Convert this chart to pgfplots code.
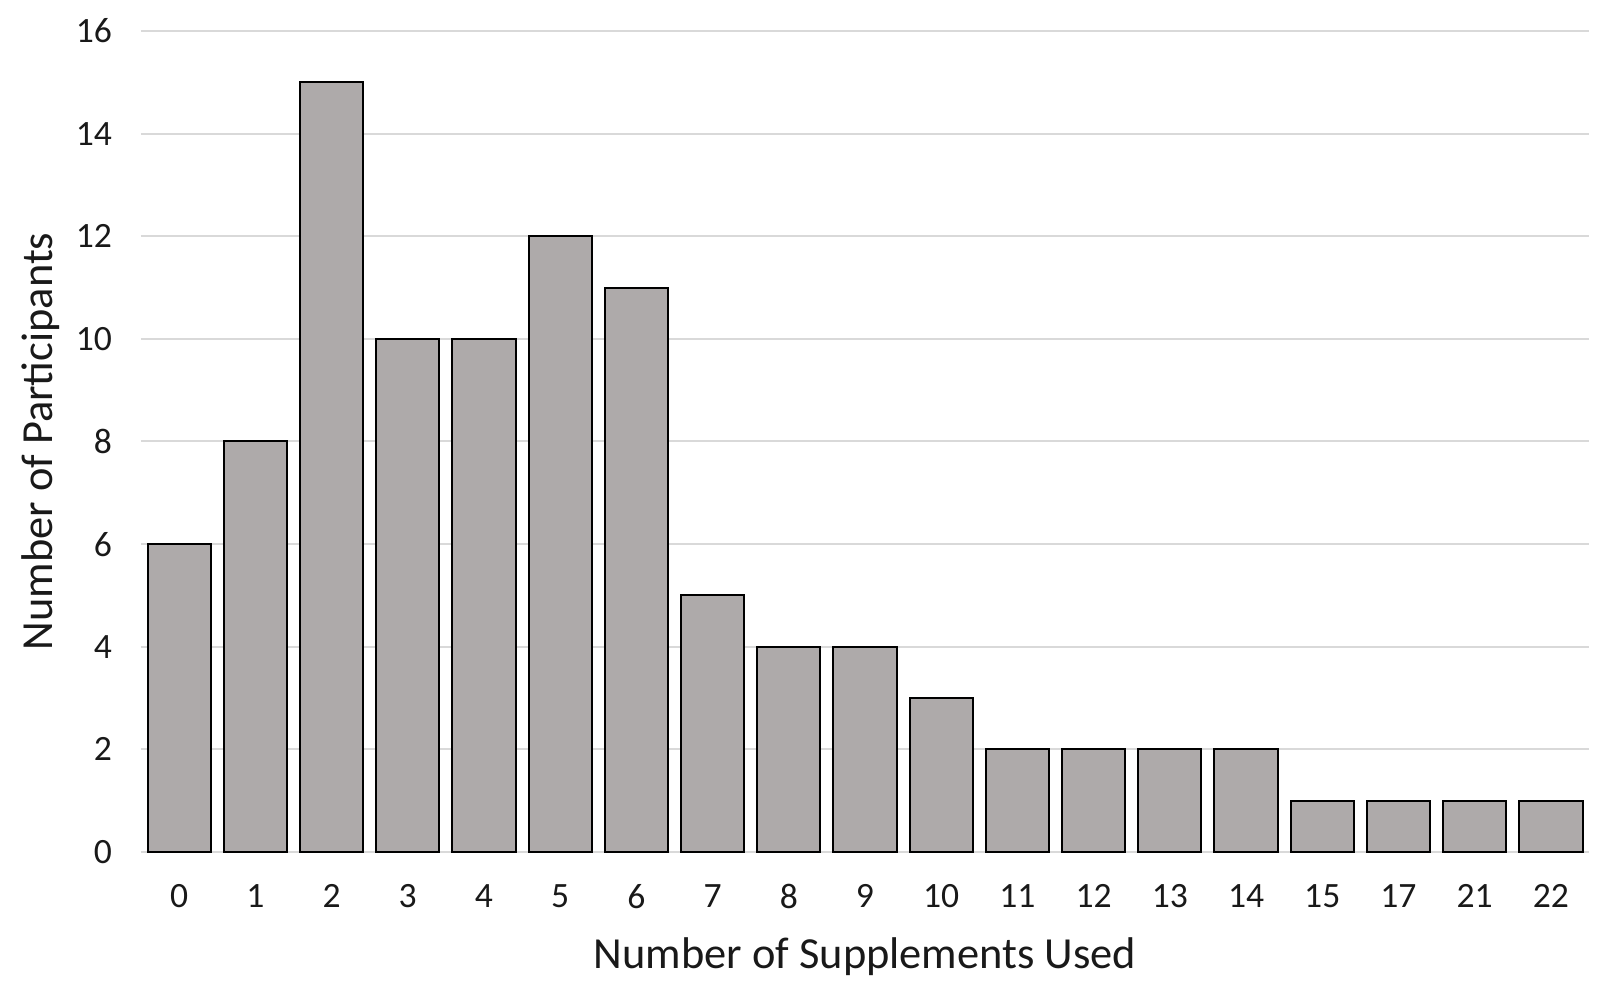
\documentclass[border=0pt]{standalone}
\usepackage{fontspec}
\setmainfont{Carlito}
\usepackage{pgfplots}
\pgfplotsset{compat=1.18}
\definecolor{barfill}{RGB}{174,170,170}
\definecolor{gridc}{RGB}{217,217,217}
\begin{document}
\begin{tikzpicture}
\begin{axis}[name=ax, at={(0,0)}, anchor=south west,
 scale only axis, width=724pt, height=410.5pt,
 xmin=-0.5, xmax=18.5, ymin=0, ymax=16,
 ytick={0,2,...,16},
 xtick=data,
 xticklabels={0,1,2,3,4,5,6,7,8,9,10,11,12,13,14,15,17,21,22},
 axis line style={draw=none}, major tick length=0,
 ymajorgrids, grid style={gridc, line width=1pt},
 ybar, bar width=31.6pt, bar shift=0pt,
 /pgf/number format/assume math mode=true,
 tick label style={font=\fontsize{17.8}{20}\selectfont, text=black!90},
 yticklabel style={xshift=-11pt},
 xticklabel style={yshift=-12.7pt},
 xlabel={Number of Supplements Used},
 ylabel={Number of Participants},
 label style={font=\fontsize{22.2}{24}\selectfont, text=black!90},
 xlabel style={at={([yshift=-52.5pt]axis description cs:0.5,0)}, anchor=center},
 ylabel style={at={([xshift=-50pt]axis description cs:0,0.5)}, anchor=center},
]
\addplot[fill=barfill, draw=black, line width=1pt] coordinates {
(0,6) (1,8) (2,15) (3,10) (4,10) (5,12) (6,11) (7,5) (8,4) (9,4)
(10,3) (11,2) (12,2) (13,2) (14,2) (15,1) (16,1) (17,1) (18,1)
};
\end{axis}
\path ([shift={(-70.5pt,-66.5pt)}]ax.south west) rectangle ([shift={(5.5pt,15.5pt)}]ax.north east);
\end{tikzpicture}
\end{document}
